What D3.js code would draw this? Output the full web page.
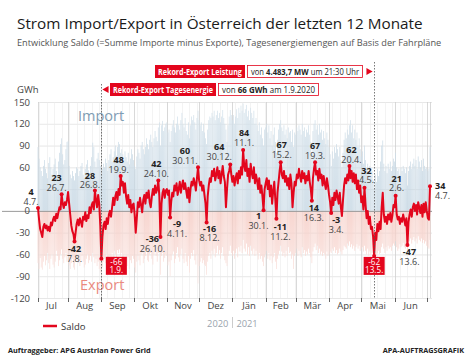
<!DOCTYPE html>
<html>
<head>
<meta charset="utf-8">
<script src="https://cdn.jsdelivr.net/npm/d3@7"></script>
<style>
  body { margin: 0; background: #fff; }
  svg { font-family: "Open Sans", sans-serif; display: block; }
</style>
</head>
<body>
<div id="chart"></div>
<script>
// Tageswerte ab 4.7.2020 bis 4.7.2021 (GWh)
var startDay = new Date(2020, 6, 4);
var endDay = new Date(2021, 6, 4);

var saldo = [
  4, -12, -25, -30, -36, -22, -18, -24, -20, -27, -22, -28, -16, -20, -12, -8, -14, -4, -10, -2, 5, 2, 23, 10, 4, 12, 8, 15,
  26, 10, -5, -20, -28, -32, -42, -30, -18, -12, -20, -10, -15, -22, -8, -12, -2, -14, -6, -10, 5, -3, 8, 12, 2, 28, 15, 5, 22, 10, -20,
  -66, -35, -20, -15, -25, -10, -18, -5, 0, -8, 5, 18, 8, 20, 26, 15, 30, 22, 48, 35, 40, 25, 38, 20, 10, 22, 5, 15, -2, 8,
  10, -5, -30, -10, 12, 5, 18, 8, -2, 15, 22, 10, 25, 18, 28, 12, 5, 20, 30, 22, 35, 25, 30, 42, 20, -36, 10, 25, 30, 18, 28,
  30, 22, 28, -9, 12, 25, 20, 35, 28, 38, 22, 30, 40, 25, 35, 42, 30, 38, 28, 18, 32, 12, 30, 40, 35, 45, 38, 28, 45, 60,
  42, 35, 40, 28, 35, 22, 10, -16, 20, 35, 45, 40, 55, 48, 58, 42, 50, 60, 45, 55, 38, 50, 62, 48, 40, 5, 30, 50, 55, 64, 50,
  40, 48, 35, 45, 52, 38, 55, 45, 60, 50, 84, 62, 55, 70, 48, 58, 40, 65, 52, 45, 60, 38, 50, 42, 30, 45, 25, 35, 20, 1, 30,
  38, 45, 30, 42, 20, 35, 10, 28, 40, 15, -11, 25, 40, 55, 67, 50, 45, 55, 40, 48, 35, 45, 30, 50, 38, 5, 25, 40,
  35, 50, 45, 58, 48, 40, 55, 45, 52, 38, 48, 42, 55, 40, 30, 14, 45, 58, 67, 50, 55, 42, 58, 45, 50, 35, 48, 38, 30, 45, 35,
  22, 12, -3, 18, 8, 25, 15, 28, 20, 10, 25, 5, -7, 15, 35, 45, 38, 50, 42, 62, 45, 55, 40, 52, 38, 50, 30, 42, 25, 35,
  12, 20, 2, 32, 8, -10, 0, -18, -8, -25, -22, -35, -62, -30, -40, -18, -28, -15, -25, 5, 25, -5, -15, -8, -18, -5, -12, -3, -15, -6, 8,
  5, 21, -5, -12, -8, -18, -10, -15, -5, -12, -20, -10, -47, -15, -5, 2, -8, 5, 10, 0, 8, -5, 12, 5, -3, 8, -8, 10, -2, 12,
  0, -10, -12, 34
];

var importe = [
  88, 72, 60, 55, 48, 62, 70, 58, 52, 45, 66, 74, 60, 50, 58, 64, 72, 55, 48, 68, 80, 92, 100, 78, 64, 70, 85, 95,
  96, 62, 50, 45, 55, 48, 42, 52, 60, 58, 48, 55, 62, 66, 50, 45, 58, 64, 70, 56, 52, 62, 74, 94, 88, 68, 60, 72, 80, 70, 62,
  50, 58, 65, 60, 72, 66, 55, 70, 78, 85, 68, 74, 82, 90, 76, 88, 95, 92, 80, 85, 78, 70, 82, 74, 68, 80, 64, 72, 85, 78,
  70, 62, 58, 75, 85, 80, 72, 90, 95, 85, 78, 88, 100, 92, 85, 98, 105, 95, 88, 100, 110, 102, 96, 115, 122, 90, 118, 124, 110, 115, 120,
  122, 108, 112, 95, 110, 118, 125, 115, 108, 120, 130, 118, 112, 125, 135, 120, 115, 128, 110, 105, 122, 100, 118, 130, 125, 132, 122, 112, 128, 138,
  125, 118, 122, 110, 120, 108, 100, 92, 112, 125, 130, 128, 135, 130, 138, 125, 132, 138, 128, 135, 122, 130, 139, 128, 120, 112, 95, 118, 130, 139, 132,
  125, 132, 120, 130, 140, 128, 142, 135, 145, 138, 148, 135, 140, 146, 130, 138, 125, 142, 135, 128, 138, 120, 128, 118, 110, 122, 105, 115, 100, 90, 112,
  115, 120, 108, 118, 100, 110, 90, 105, 115, 95, 80, 98, 112, 120, 125, 115, 110, 118, 105, 112, 100, 115, 108, 110, 95, 112, 88, 108,
  105, 115, 110, 118, 112, 105, 120, 110, 115, 102, 112, 108, 118, 105, 95, 80, 110, 120, 125, 112, 118, 105, 120, 108, 112, 98, 110, 100, 92, 108, 98,
  88, 78, 62, 82, 72, 88, 80, 92, 85, 75, 88, 70, 60, 80, 98, 108, 100, 112, 105, 118, 125, 108, 118, 100, 112, 98, 108, 88, 100, 85,
  75, 82, 65, 90, 70, 58, 65, 52, 62, 48, 55, 42, 30, 50, 40, 58, 48, 55, 68, 90, 97, 65, 55, 62, 52, 65, 58, 68, 55, 62, 72,
  68, 80, 60, 55, 58, 50, 60, 55, 62, 58, 52, 60, 35, 55, 62, 68, 58, 65, 72, 62, 70, 58, 75, 68, 60, 70, 55, 72, 62, 58,
  60, 55, 58, 88
];

var exporte = [
  -72, -80, -65, -78, -81, -70, -62, -75, -68, -58, -72, -80, -66, -60, -74, -78, -70, -55, -62, -76, -68, -60, -53, -66, -72, -64, -58, -70,
  -62, -75, -80, -72, -66, -78, -81, -70, -64, -58, -72, -76, -68, -62, -70, -78, -74, -66, -60, -72, -68, -62, -70, -58, -64, -72, -66, -76, -70, -80, -85,
  -90, -78, -70, -66, -72, -60, -74, -68, -62, -70, -58, -64, -55, -60, -66, -54, -58, -53, -62, -58, -66, -72, -60, -70, -76, -64, -80, -68, -72, -62,
  -66, -78, -85, -70, -62, -68, -75, -60, -58, -72, -66, -62, -55, -68, -70, -60, -58, -66, -74, -60, -55, -62, -70, -58, -53, -88, -62, -58, -70, -65, -60,
  -62, -75, -70, -90, -68, -60, -56, -72, -66, -58, -50, -64, -70, -60, -52, -66, -72, -58, -70, -76, -62, -85, -66, -58, -62, -54, -68, -74, -60, -100,
  -76, -70, -65, -72, -68, -74, -76, -88, -70, -62, -58, -66, -55, -60, -52, -64, -58, -48, -60, -54, -66, -58, -50, -62, -68, -72, -76, -62, -55, -48, -58,
  -62, -55, -66, -58, -52, -64, -50, -56, -48, -58, -40, -52, -56, -45, -60, -50, -62, -48, -55, -60, -52, -62, -55, -60, -67, -58, -66, -62, -70, -76, -64,
  -60, -55, -66, -58, -68, -62, -72, -64, -58, -70, -80, -66, -60, -55, -48, -56, -62, -58, -64, -55, -62, -50, -58, -56, -66, -60, -80, -62,
  -58, -52, -62, -55, -60, -64, -50, -58, -54, -62, -56, -60, -52, -58, -64, -72, -56, -50, -45, -54, -48, -58, -52, -60, -56, -62, -58, -60, -66, -56, -62,
  -60, -56, -58, -52, -55, -50, -58, -54, -60, -58, -52, -56, -60, -54, -48, -50, -52, -45, -48, -42, -50, -46, -52, -48, -55, -50, -46, -52, -48, -55,
  -52, -50, -56, -48, -55, -60, -52, -62, -56, -60, -58, -62, -65, -60, -62, -58, -55, -60, -58, -50, -45, -52, -58, -50, -55, -48, -52, -50, -55, -48, -45,
  -48, -42, -50, -55, -52, -46, -50, -48, -44, -50, -52, -46, -55, -48, -42, -38, -45, -40, -36, -42, -38, -45, -35, -40, -42, -38, -44, -40, -45, -42,
  -48, -50, -52, -40
];

var monthNames = ["Jul", "Aug", "Sep", "Okt", "Nov", "Dez", "Jän", "Feb", "Mär", "Apr", "Mai", "Jun"];
var yTicks = [150, 120, 90, 60, 30, 0, -30, -60, -90, -120];
var yTickLabels = ["150", "120", "90", "60", "", "0", "-30", "-60", "-90", "-120"];

// Extremwerte mit Datum
var annotations = [
  ["2020-07-04", 4], ["2020-07-26", 23], ["2020-08-07", -42], ["2020-08-26", 28],
  ["2020-09-01", -66], ["2020-09-19", 48], ["2020-10-24", 42], ["2020-10-26", -36],
  ["2020-11-04", -9], ["2020-11-30", 60], ["2020-12-08", -16], ["2020-12-30", 64],
  ["2021-01-11", 84], ["2021-01-30", 1], ["2021-02-11", -11], ["2021-02-15", 67],
  ["2021-03-16", 14], ["2021-03-19", 67], ["2021-04-03", -3], ["2021-04-20", 62],
  ["2021-05-04", 32], ["2021-05-13", -62], ["2021-06-02", 21], ["2021-06-13", -47],
  ["2021-07-04", 34]
];
// placement of each annotation: side, dx, dy
var annoLayout = [
  ["t", -7, 0], ["t", -5, 0], ["b", 0, 1], ["t", -5, 1],
  ["box", 15, -2], ["t", -2, 0], ["t", -2, 0], ["b", -8, -5],
  ["b", 7, 0], ["t", -13, 0], ["b", 3, -1], ["t", -11, -1],
  ["t", 1, -1], ["b", -5, -1], ["b", 4, 1], ["t", 1, -1],
  ["b", 2, 0], ["t", 0, 0], ["b", 5, 0], ["t", 2, 0],
  ["t", 2, -1], ["box", 0, 1], ["t", 1, -1], ["b", 2, 0],
  ["r", 0, 0]
];

var recordPower = { label: "Rekord-Export Leistung", pre: "von", bold: "4.483,7 MW", post: "um 21:30 Uhr", date: "2021-05-13" };
var recordEnergy = { label: "Rekord-Export Tagesenergie", pre: "von", bold: "66 GWh", post: "am 1.9.2020", date: "2020-09-01" };

var width = 474, height = 360;
var red = "#e3061d";
var parseDate = d3.timeParse("%Y-%m-%d");

var svg = d3.select("#chart").append("svg")
  .attr("width", width)
  .attr("height", height);

var x = d3.scaleTime().domain([startDay, endDay]).range([38, 430]);
var y = d3.scaleLinear().domain([-120, 150]).range([298, 102]);

var days = saldo.map(function(d, i) { return d3.timeDay.offset(startDay, i); });

// Titles
svg.append("text").attr("x", 17).attr("y", 29)
  .attr("font-size", 15.3).attr("fill", "#1a1a1a").attr("font-weight", 500)
  .text("Strom Import/Export in Österreich der letzten 12 Monate");
svg.append("text").attr("x", 17).attr("y", 46)
  .attr("font-size", 9.2).attr("fill", "#555")
  .text("Entwicklung Saldo (=Summe Importe minus Exporte), Tagesenergiemengen auf Basis der Fahrpläne");

// Gradients for bars
var defs = svg.append("defs");
var gImp = defs.append("linearGradient").attr("id", "gimp")
  .attr("gradientUnits", "userSpaceOnUse")
  .attr("x1", 0).attr("x2", 0).attr("y1", y(0)).attr("y2", y(150));
gImp.append("stop").attr("offset", 0).attr("stop-color", "#c3d5e2");
gImp.append("stop").attr("offset", 1).attr("stop-color", "#d6e3ec");
var gExp = defs.append("linearGradient").attr("id", "gexp")
  .attr("gradientUnits", "userSpaceOnUse")
  .attr("x1", 0).attr("x2", 0).attr("y1", y(0)).attr("y2", y(-100));
gExp.append("stop").attr("offset", 0).attr("stop-color", "#f5c8c0");
gExp.append("stop").attr("offset", 1).attr("stop-color", "#fae6e2");

// Grid
var grid = svg.append("g");
grid.selectAll(".hg")
  .data(yTicks)
  .enter().append("line")
  .attr("x1", x.range()[0]).attr("x2", x.range()[1] + 2)
  .attr("y1", function(d) { return y(d) + 0.5; })
  .attr("y2", function(d) { return y(d) + 0.5; })
  .attr("stroke", "#dcdcdc")
  .attr("stroke-width", 0.7);

var weeks = d3.timeSunday.range(startDay, endDay);
grid.selectAll(".wg")
  .data(weeks)
  .enter().append("line")
  .attr("x1", function(d) { return Math.round(x(d)) + 0.5; })
  .attr("x2", function(d) { return Math.round(x(d)) + 0.5; })
  .attr("y1", y(150)).attr("y2", y(-120))
  .attr("stroke", "#ebebeb").attr("stroke-width", 0.6);

var monthStarts = d3.timeMonth.range(startDay, endDay);
var gridEdges = [startDay].concat(monthStarts).concat([endDay]);
grid.selectAll(".mg")
  .data(gridEdges)
  .enter().append("line")
  .attr("x1", function(d) { return Math.round(x(d)) + 0.5; })
  .attr("x2", function(d) { return Math.round(x(d)) + 0.5; })
  .attr("y1", y(150)).attr("y2", y(-120))
  .attr("stroke", "#cfcfcf").attr("stroke-width", 0.8);

// Bars import / export
var barW = 0.75;
svg.append("g").selectAll("rect")
  .data(importe)
  .enter().append("rect")
  .attr("x", function(d, i) { return x(days[i]) - barW / 2; })
  .attr("y", function(d) { return y(d); })
  .attr("width", barW)
  .attr("height", function(d) { return y(0) - y(d); })
  .attr("fill", "url(#gimp)");
svg.append("g").selectAll("rect")
  .data(exporte)
  .enter().append("rect")
  .attr("x", function(d, i) { return x(days[i]) - barW / 2; })
  .attr("y", y(0))
  .attr("width", barW)
  .attr("height", function(d) { return y(d) - y(0); })
  .attr("fill", "url(#gexp)");

// zero line
svg.append("line")
  .attr("x1", 2).attr("x2", x.range()[1] + 2)
  .attr("y1", y(0) + 0.5).attr("y2", y(0) + 0.5)
  .attr("stroke", "#9a9a9a");

// Y axis labels
svg.append("g").selectAll("text")
  .data(yTicks)
  .enter().append("text")
  .attr("x", 30)
  .attr("y", function(d) { return y(d) + 3.5; })
  .attr("text-anchor", "end")
  .attr("font-size", 9.5)
  .attr("fill", "#444")
  .text(function(d, i) { return yTickLabels[i]; });
svg.append("text").attr("x", 17).attr("y", 93)
  .attr("font-size", 9.5).attr("fill", "#444").text("GWh");

// X axis: ticks at month starts, labels centered in months
var tickDates = [startDay].concat(monthStarts);
svg.append("g").selectAll("line")
  .data(tickDates)
  .enter().append("line")
  .attr("x1", function(d) { return Math.round(x(d)) + 0.5; })
  .attr("x2", function(d) { return Math.round(x(d)) + 0.5; })
  .attr("y1", y(-120)).attr("y2", y(-120) + 4)
  .attr("stroke", "#666");
var monthMids = monthNames.map(function(m, i) {
  var a = new Date(2020, 6 + i, 1), b = new Date(2020, 7 + i, 1);
  return new Date((a.getTime() + b.getTime()) / 2);
});
svg.append("g").selectAll("text")
  .data(monthMids)
  .enter().append("text")
  .attr("x", function(d) { return x(d); })
  .attr("y", 309)
  .attr("text-anchor", "middle")
  .attr("font-size", 9.5)
  .attr("fill", "#444")
  .text(function(d, i) { return monthNames[i]; });

// Import / Export labels
svg.append("text").attr("x", 78).attr("y", 121)
  .attr("font-size", 14.5).attr("fill", "#7f9cb3").text("Import");
svg.append("text").attr("x", 80).attr("y", 290)
  .attr("font-size", 14.5).attr("fill", "#ea8a7e").text("Export");

// Record markers (dotted lines)
function recordLine(dateStr, y1) {
  var xx = Math.round(x(parseDate(dateStr))) + 0.5;
  svg.append("line")
    .attr("x1", xx).attr("x2", xx)
    .attr("y1", y1).attr("y2", y(-120))
    .attr("stroke", "#555").attr("stroke-width", 0.8)
    .attr("stroke-dasharray", "1.5,1.5");
  return xx;
}

// Saldo line
var line = d3.line()
  .x(function(d, i) { return x(days[i]); })
  .y(function(d) { return y(d); });
svg.append("path")
  .datum(saldo)
  .attr("d", line)
  .attr("fill", "none")
  .attr("stroke", red)
  .attr("stroke-width", 2)
  .attr("stroke-linejoin", "round");

var xPow = recordLine(recordPower.date, 62);
var xEn = recordLine(recordEnergy.date, 84);

// text squeezed into a fixed width (narrow font look)
function fitText(g, parts, x0, y0, w, fill) {
  var holder = g.append("g");
  var cx = 0;
  parts.forEach(function(p) {
    var t = holder.append("text").attr("x", cx).attr("y", 0)
      .attr("font-size", 8.6).attr("fill", fill)
      .attr("font-weight", p.bold ? "bold" : "normal").text(p.text);
    cx += t.node().getComputedTextLength() + 2.4;
  });
  cx -= 2.4;
  holder.attr("transform", "translate(" + x0 + "," + y0 + ") scale(" + (w / cx) + ",1)");
}

function recordBox(rec, xLeft, yTop, redW, whiteW) {
  var g = svg.append("g");
  g.append("rect").attr("x", xLeft).attr("y", yTop).attr("width", redW).attr("height", 13).attr("fill", red);
  fitText(g, [{ text: rec.label, bold: true }], xLeft + 3, yTop + 9.5, redW - 6, "#fff");
  g.append("rect").attr("x", xLeft + redW + 2.5).attr("y", yTop + 0.5).attr("width", whiteW).attr("height", 12)
    .attr("fill", "#fff").attr("stroke", red).attr("stroke-width", 0.8);
  fitText(g, [{ text: rec.pre }, { text: rec.bold, bold: true }, { text: rec.post }],
    xLeft + redW + 6, yTop + 9.5, whiteW - 7, "#222");
}
recordBox(recordPower, 155, 65, 90, 115);
svg.append("path")
  .attr("d", d3.symbol(d3.symbolTriangle, 22)())
  .attr("transform", "translate(" + (xPow - 6) + ",71.5) rotate(90)")
  .attr("fill", red);
recordBox(recordEnergy, 110, 83, 106, 100);
svg.append("path")
  .attr("d", d3.symbol(d3.symbolTriangle, 22)())
  .attr("transform", "translate(" + (xEn + 5) + ",89.5) rotate(-90)")
  .attr("fill", red);

// Annotations
var ag = svg.append("g");
annotations.forEach(function(a, i) {
  var lay = annoLayout[i];
  var dt = parseDate(a[0]);
  var px = x(dt), py = y(a[1]);
  var dateLabel = d3.timeFormat("%-d.%-m.")(dt);
  ag.append("circle").attr("cx", px).attr("cy", py).attr("r", 2).attr("fill", red);
  var side = lay[0], dx = lay[1], dy = lay[2];
  if (side === "box") {
    var bx = px + dx, by = py + dy;
    ag.append("rect").attr("x", bx - 10.5).attr("y", by).attr("width", 21).attr("height", 18).attr("fill", red);
    ag.append("text").attr("x", bx).attr("y", by + 7.8).attr("text-anchor", "middle")
      .attr("font-size", 8.2).attr("fill", "#fff").text(a[1]);
    ag.append("text").attr("x", bx).attr("y", by + 16.2).attr("text-anchor", "middle")
      .attr("font-size", 8.2).attr("fill", "#fff").text(dateLabel);
    return;
  }
  var anchor = side === "r" ? "start" : "middle";
  var tx = side === "r" ? px + 5 : px + dx;
  var ny;
  if (side === "t") { ny = py - 13 + dy; }
  else if (side === "b") { ny = py + 10 + dy; }
  else { ny = py + 3 + dy; }
  ag.append("text").attr("x", tx).attr("y", ny).attr("text-anchor", anchor)
    .attr("font-size", 9).attr("font-weight", "bold").attr("fill", "#222").text(a[1]);
  ag.append("text").attr("x", tx).attr("y", ny + 9.8).attr("text-anchor", anchor)
    .attr("font-size", 9).attr("fill", "#444").text(dateLabel);
});

// Legend
svg.append("line").attr("x1", 43).attr("x2", 57).attr("y1", 326).attr("y2", 326)
  .attr("stroke", red).attr("stroke-width", 2.5);
svg.append("text").attr("x", 61).attr("y", 329.5)
  .attr("font-size", 9.5).attr("fill", "#333").text("Saldo");

// Years
var jan1 = x(new Date(2021, 0, 1));
svg.append("text").attr("x", jan1 - 4).attr("y", 326.5).attr("text-anchor", "end")
  .attr("font-size", 9.3).attr("fill", "#9aa4ad").text("2020");
svg.append("text").attr("x", jan1 + 4).attr("y", 326.5)
  .attr("font-size", 9.3).attr("fill", "#9aa4ad").text("2021");
svg.append("line").attr("x1", Math.round(jan1) + 0.5).attr("x2", Math.round(jan1) + 0.5)
  .attr("y1", 317).attr("y2", 328).attr("stroke", "#ccc");

// Footer
svg.append("text").attr("x", 8).attr("y", 353)
  .attr("font-size", 7.3).attr("font-weight", "bold").attr("fill", "#222")
  .text("Auftraggeber: APG Austrian Power Grid");
svg.append("text").attr("x", 464).attr("y", 353).attr("text-anchor", "end")
  .attr("font-size", 7.3).attr("font-weight", "bold").attr("fill", "#222")
  .text("APA-AUFTRAGSGRAFIK");
</script>
</body>
</html>
